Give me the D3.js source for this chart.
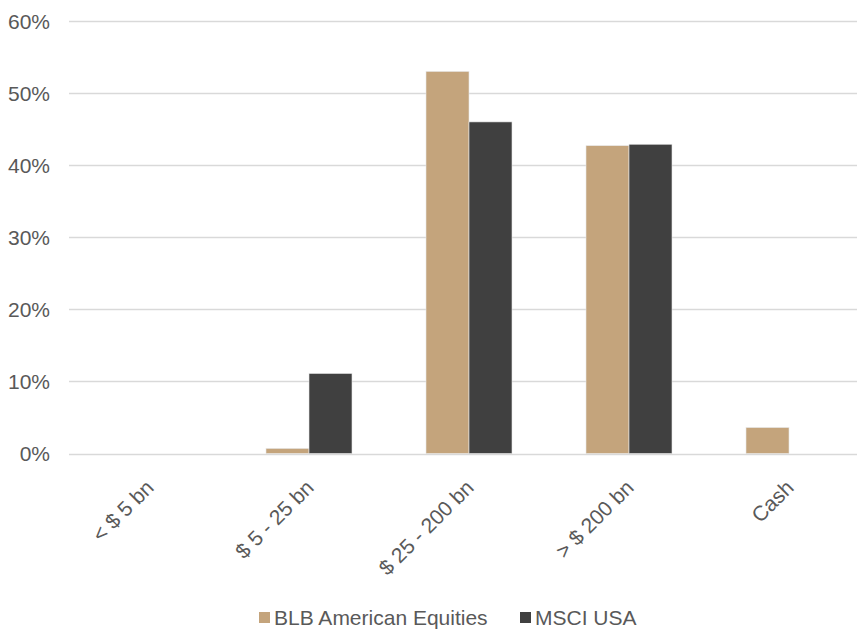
<!DOCTYPE html>
<html>
<head>
<meta charset="utf-8">
<script src="https://cdn.jsdelivr.net/npm/d3@7"></script>
<style>
  body { margin: 0; background: #fff; }
  text { font-family: "Liberation Sans", Arial, sans-serif; fill: #595959; }
</style>
</head>
<body>
<script>
var outerWidth = 857;
var outerHeight = 630;

// data
var categories = ["< $ 5 bn", "$ 5 - 25 bn", "$ 25 - 200 bn", "> $ 200 bn", "Cash"];
var seriesNames = ["BLB American Equities", "MSCI USA"];
var blbValues = [0, 0.7, 53.0, 42.7, 3.6];
var msciValues = [0, 11.1, 46.0, 42.9, 0];
var yTicks = [0, 10, 20, 30, 40, 50, 60];
var colors = ["#C4A47C", "#404040"];

var fontSize = "21px";

var svg = d3.select("body").append("svg")
    .attr("width", outerWidth)
    .attr("height", outerHeight);

// x scale runs past the right edge, like the source
var x = d3.scaleBand()
    .domain(categories)
    .range([69, 869]);

var xs = d3.scaleBand()
    .domain(seriesNames)
    .range([37, 123]);

var y = d3.scaleLinear()
    .domain([0, 60])
    .range([453.5, 21]);

// gridlines
svg.append("g").selectAll("line")
    .data(yTicks)
    .enter().append("line")
    .attr("x1", 69)
    .attr("x2", outerWidth)
    .attr("y1", function(d) { return Math.round(y(d)) + 0.5; })
    .attr("y2", function(d) { return Math.round(y(d)) + 0.5; })
    .attr("stroke", "#d9d9d9")
    .attr("stroke-width", 1.3);

// y axis labels
svg.append("g").selectAll("text")
    .data(yTicks)
    .enter().append("text")
    .attr("x", 50)
    .attr("y", function(d) { return y(d) + 7.5; })
    .attr("text-anchor", "end")
    .attr("font-size", fontSize)
    .text(function(d) { return d + "%"; });

var rows = categories.map(function(c, i) {
    return { cat: c, vals: [blbValues[i], msciValues[i]] };
});

var group = svg.selectAll(".cat")
    .data(rows)
    .enter().append("g")
    .attr("class", "cat")
    .attr("transform", function(d) { return "translate(" + x(d.cat) + ",0)"; });

group.selectAll("rect")
    .data(function(d) { return d.vals.map(function(v, j) { return { s: seriesNames[j], v: v, j: j }; }); })
    .enter().append("rect")
    .filter(function(d) { return d.v > 0; })
    .attr("x", function(d) { return xs(d.s); })
    .attr("width", xs.bandwidth())
    .attr("y", function(d) { return y(d.v); })
    .attr("height", function(d) { return y(0) - y(d.v); })
    .attr("fill", function(d) { return colors[d.j]; })
    .attr("stroke", "#e6e6e6")
    .attr("stroke-width", 0.6);

// rotated category labels
svg.append("g").selectAll("text")
    .data(categories)
    .enter().append("text")
    .attr("transform", function(d) {
        return "translate(" + (x(d) + x.bandwidth() / 2 + 6) + ",489) rotate(-45)";
    })
    .attr("text-anchor", "end")
    .attr("font-size", fontSize)
    .text(function(d) { return d; });

// legend
var legendX = [259, 520];
var legend = svg.append("g").selectAll("g")
    .data(seriesNames)
    .enter().append("g")
    .attr("transform", function(d, i) { return "translate(" + legendX[i] + ",612)"; });

legend.append("rect")
    .attr("width", 11)
    .attr("height", 11)
    .attr("fill", function(d, i) { return colors[i]; });

legend.append("text")
    .attr("x", 15)
    .attr("y", 12.5)
    .attr("font-size", fontSize)
    .text(function(d) { return d; });
</script>
</body>
</html>
